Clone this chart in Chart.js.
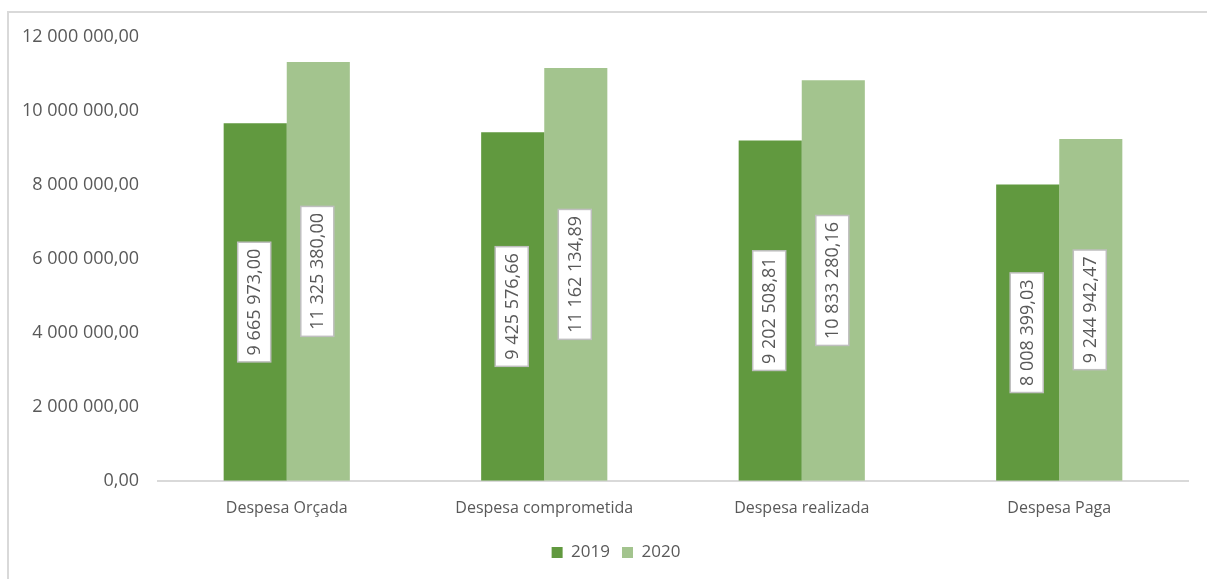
<!DOCTYPE html>
<html>
<head>
<meta charset="utf-8">
<script src="https://cdn.jsdelivr.net/npm/chart.js@4"></script>
<style>
  html, body { margin: 0; padding: 0; background: #fff; overflow: hidden; }
  #frame {
    position: absolute; left: 7px; top: 11px; width: 1300px; height: 700px;
    border-top: 2px solid #d9d9d9; border-left: 2px solid #d9d9d9;
  }
  #wrap { position: absolute; left: 0; top: 0; width: 1207px; height: 579px; }
</style>
</head>
<body>
<div id="frame"></div>
<div id="wrap"><canvas id="chart" width="1207" height="579"></canvas></div>
<script>
// Chart data
const categories = ["Despesa Orçada", "Despesa comprometida", "Despesa realizada", "Despesa Paga"];
const values2019 = [9665973.00, 9425576.66, 9202508.81, 8008399.03];
const values2020 = [11325380.00, 11162134.89, 10833280.16, 9244942.47];
const seriesNames = ["2019", "2020"];

const textColor = "#595959";
const fontFamily = "'Open Sans', sans-serif";

// 12 000 000,00 style
function fmt(v) {
  const parts = v.toFixed(2).split(".");
  return parts[0].replace(/\B(?=(\d{3})+(?!\d))/g, " ") + "," + parts[1];
}

// vertical value labels in white boxes, centred in each bar
const boxLabels = {
  id: "boxLabels",
  afterDatasetsDraw(chart) {
    const ctx = chart.ctx;
    ctx.save();
    ctx.font = "18px " + fontFamily;
    chart.data.datasets.forEach((ds, di) => {
      const meta = chart.getDatasetMeta(di);
      meta.data.forEach((bar, i) => {
        const txt = fmt(ds.data[i]);
        const w = ctx.measureText(txt).width + 13;
        const h = 33;
        const cy = (bar.y + bar.base) / 2;
        ctx.save();
        ctx.translate(bar.x - 1, cy);
        ctx.rotate(-Math.PI / 2);
        ctx.fillStyle = "#ffffff";
        ctx.fillRect(-w / 2, -h / 2, w, h);
        ctx.strokeStyle = "#bfbfbf";
        ctx.lineWidth = 1.5;
        ctx.strokeRect(-w / 2, -h / 2, w, h);
        ctx.fillStyle = textColor;
        ctx.textAlign = "center";
        ctx.textBaseline = "middle";
        ctx.fillText(txt, 0, 1);
        ctx.restore();
      });
    });
    ctx.restore();
  },
};

// nudge the legend a little to the right, like the original
const legendShift = {
  id: "legendShift",
  afterLayout(chart) {
    if (chart.legend) {
      chart.legend.left += 22;
      chart.legend.right += 22;
    }
  },
};

new Chart(document.getElementById("chart").getContext("2d"), {
  type: "bar",
  data: {
    labels: categories,
    datasets: [
      {
        label: seriesNames[0],
        data: values2019,
        backgroundColor: "#61993f",
        barPercentage: 1.0,
        categoryPercentage: 0.49,
      },
      {
        label: seriesNames[1],
        data: values2020,
        backgroundColor: "#a3c48e",
        barPercentage: 1.0,
        categoryPercentage: 0.49,
      },
    ],
  },
  options: {
    responsive: false,
    animation: false,
    layout: { padding: { top: 37, right: 19, bottom: 8, left: 0 } },
    plugins: {
      legend: {
        position: "bottom",
        labels: {
          color: textColor,
          font: { family: fontFamily, size: 17 },
          boxWidth: 11,
          boxHeight: 11,
          padding: 12,
        },
      },
      tooltip: { enabled: false },
    },
    scales: {
      y: {
        min: 0,
        max: 12000000,
        ticks: {
          stepSize: 2000000,
          color: textColor,
          padding: 19,
          font: { family: fontFamily, size: 18 },
          callback: (v) => fmt(v),
        },
        grid: { display: false, drawTicks: false },
        border: { display: false },
        afterFit: (scale) => { scale.width = 158; },
      },
      x: {
        ticks: {
          color: textColor,
          padding: 18,
          font: { family: fontFamily, size: 16 },
        },
        grid: { display: false, drawTicks: false },
        border: { color: "#d9d9d9", width: 2 },
        afterFit: (scale) => { scale.height -= 4; },
      },
    },
  },
  plugins: [boxLabels, legendShift],
});
</script>
</body>
</html>
